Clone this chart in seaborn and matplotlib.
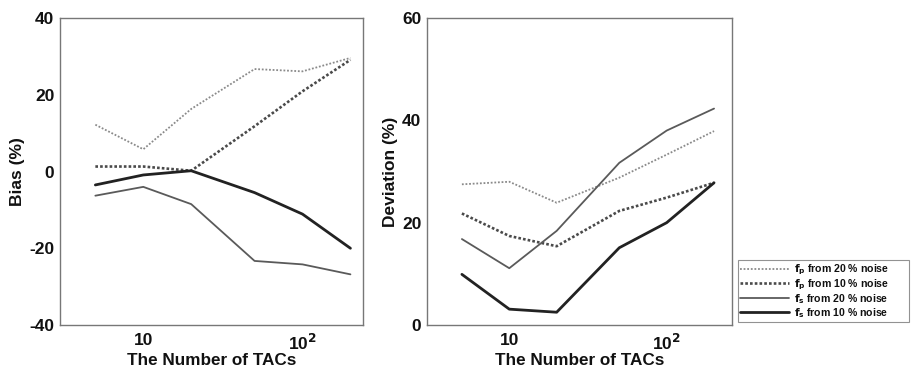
import matplotlib
matplotlib.use("Agg")
import matplotlib.pyplot as plt
import seaborn as sns
import pandas as pd
from matplotlib.ticker import FixedLocator, FixedFormatter, LogLocator, NullFormatter

sns.set_theme(style="white")
plt.rcParams['font.family'] = ['Liberation Sans', 'DejaVu Sans']
plt.rcParams['font.weight'] = 'bold'
plt.rcParams['axes.labelweight'] = 'bold'
plt.rcParams['mathtext.default'] = 'bf'
plt.rcParams['text.color'] = '#111111'
plt.rcParams['axes.labelcolor'] = '#111111'
plt.rcParams['xtick.labelcolor'] = '#111111'
plt.rcParams['ytick.labelcolor'] = '#111111'

n_tacs = [5, 10, 20, 50, 100, 200]

series_labels = [r"$f_p$ from 20 % noise", r"$f_p$ from 10 % noise",
                 r"$f_s$ from 20 % noise", r"$f_s$ from 10 % noise"]

bias_fp20 = [12.2, 5.8, 16.3, 26.7, 26.1, 29.6]
bias_fp10 = [1.3, 1.3, 0.2, 11.8, 20.9, 29.1]
bias_fs20 = [-6.3, -4.0, -8.5, -23.3, -24.2, -26.8]
bias_fs10 = [-3.5, -0.9, 0.2, -5.5, -11.1, -20.0]

dev_fp20 = [27.5, 28.0, 23.9, 28.8, 33.3, 37.9]
dev_fp10 = [21.8, 17.4, 15.4, 22.3, 24.9, 27.8]
dev_fs20 = [16.8, 11.1, 18.4, 31.7, 38.0, 42.3]
dev_fs10 = [9.9, 3.1, 2.5, 15.1, 20.0, 27.8]

x_tick_labels = ["10", r"10$^{\mathbf{2}}$"]

styles = [
    dict(color="#8a8a8a", linestyle=(0, (1, 1)), linewidth=1.3),
    dict(color="#4a4a4a", linestyle=(0, (1, 0.8)), linewidth=1.9),
    dict(color="#5a5a5a", linestyle="-", linewidth=1.3),
    dict(color="#222222", linestyle="-", linewidth=2.0),
]

fig = plt.figure(figsize=(9.11, 3.76), dpi=100)
fig.patch.set_facecolor("white")
ax1 = fig.add_axes([0.0659, 0.1356, 0.3326, 0.8165])
ax2 = fig.add_axes([0.4687, 0.1356, 0.3348, 0.8165])

def draw(ax, data, ylim, yticks, ylabel, xlim):
    for vals, lab, st in zip(data, series_labels, styles):
        df = pd.DataFrame({"n": n_tacs, "v": vals})
        sns.lineplot(data=df, x="n", y="v", ax=ax, label=lab, **st)
    ax.set_xscale("log")
    ax.set_xlim(*xlim)
    ax.set_ylim(*ylim)
    ax.set_yticks(yticks)
    ax.set_yticklabels([str(t) for t in yticks])
    ax.xaxis.set_major_locator(FixedLocator([10, 100]))
    ax.xaxis.set_major_formatter(FixedFormatter(x_tick_labels))
    ax.xaxis.set_minor_locator(LogLocator(base=10, subs=range(2, 10)))
    ax.xaxis.set_minor_formatter(NullFormatter())
    ax.tick_params(axis="both", which="major", direction="in", length=5, width=0.8,
                   labelsize=12.5, color="#666666", pad=4)
    ax.tick_params(axis="x", which="minor", direction="in", length=3, width=0.6,
                   color="#666666")
    ax.tick_params(axis="x", which="major", pad=6)
    for lbl in ax.get_xticklabels() + ax.get_yticklabels():
        lbl.set_fontweight("bold")
    ax.set_xlabel("The Number of TACs", fontsize=12.3, fontweight="bold", labelpad=0)
    ax.set_ylabel(ylabel, fontsize=12.5, fontweight="bold", labelpad=3)
    for sp in ax.spines.values():
        sp.set_visible(True)
        sp.set_color("#777777")
        sp.set_linewidth(1.0)
    ax.set_facecolor("white")
    ax.grid(False)
    leg = ax.get_legend()
    if leg is not None:
        leg.remove()

draw(ax1, [bias_fp20, bias_fp10, bias_fs20, bias_fs10], (-40, 40), [-40, -20, 0, 20, 40],
     "Bias (%)", (3.0, 240))
draw(ax2, [dev_fp20, dev_fp10, dev_fs20, dev_fs10], (0, 60), [0, 20, 40, 60],
     "Deviation (%)", (3.0, 260))

handles, labels = ax1.get_legend_handles_labels()
leg = fig.legend(handles, labels, loc="lower left",
                 bbox_to_anchor=(0.81, 0.1436, 0.188, 0.16), mode="expand",
                 fontsize=7.6, frameon=True, fancybox=False, handlelength=4.6,
                 handletextpad=0.5, borderpad=0.22, labelspacing=0.02,
                 borderaxespad=0.0)
leg.get_frame().set_edgecolor("#777777")
leg.get_frame().set_linewidth(0.8)
for t in leg.get_texts():
    t.set_fontweight("bold")

fig.savefig("out.png", dpi=100, facecolor="white")
